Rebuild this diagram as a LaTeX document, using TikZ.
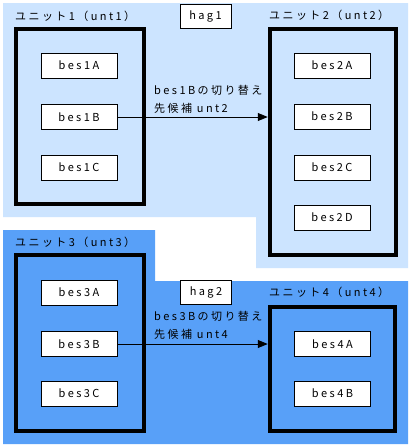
\documentclass[tikz,border=0pt]{standalone}
\usepackage{fontspec}
\setmainfont{Noto Sans CJK JP}[LetterSpace=22]
\usetikzlibrary{arrows.meta}
\definecolor{hagpale}{RGB}{204,228,255}
\definecolor{hagdeep}{RGB}{88,160,248}
\tikzset{
  unitbox/.style={draw, line width=4.5pt, minimum width=#1},
  besbox/.style={draw, fill=white, line width=0.8pt, minimum width=76pt, minimum height=25pt, font=\fontsize{11}{13}\selectfont},
  hagbox/.style={draw, fill=white, line width=0.8pt, minimum width=51pt, minimum height=24pt, font=\fontsize{11}{13}\selectfont},
  unitlabel/.style={anchor=west, inner sep=0pt, font=\fontsize{11}{13}\selectfont},
  swaplabel/.style={anchor=west, align=left, inner sep=0pt, font=\fontsize{11}{18}\selectfont},
  swaparrow/.style={line width=0.8pt, -{Triangle[length=10pt, width=8pt]}}
}
\begin{document}
\begin{tikzpicture}[x=1pt, y=-1pt]
    \useasboundingbox (0,0) rectangle (411,448);
    \fill[white] (0,0) rectangle (411,448);

    % Groups
    \fill[hagpale] (3,3) -- (408,3) -- (408,268) -- (256,268) -- (256,217) -- (3,217) -- cycle;
    \fill[hagdeep] (3,230) -- (155,230) -- (155,281) -- (408,281) -- (408,444) -- (3,444) -- cycle;
    \node[hagbox] (hag1) at (205.5,16.5) {hag1};
    \node[hagbox] (hag2) at (206,292.5) {hag2};

    % Units
    \node[unitbox=128pt, minimum height=175pt] (unt1) at (80,116.5) {};
    \node[unitbox=126pt, minimum height=226pt] (unt2) at (333,142) {};
    \node[unitbox=128pt, minimum height=176pt] (unt3) at (80,343) {};
    \node[unitbox=125pt, minimum height=124pt] (unt4) at (332.5,369) {};
    \node[unitlabel] (lab1) at (15,16) {ユニット1（unt1）};
    \node[unitlabel] (lab2) at (269,15) {ユニット2（unt2）};
    \node[unitlabel] (lab3) at (15,242) {ユニット3（unt3）};
    \node[unitlabel] (lab4) at (269,292) {ユニット4（unt4）};

    % Members
    \foreach \name/\y in {1A/65.5, 1B/117, 1C/167.5}
        \node[besbox] (bes\name) at (79,\y) {bes\name};
    \foreach \name/\y in {2A/65.5, 2B/116.5, 2C/167.5, 2D/217.5}
        \node[besbox] (bes\name) at (332,\y) {bes\name};
    \foreach \name/\y in {3A/292.5, 3B/344, 3C/393.5}
        \node[besbox] (bes\name) at (79,\y) {bes\name};
    \foreach \name/\y in {4A/344, 4B/393.5}
        \node[besbox] (bes\name) at (332.5,\y) {bes\name};

    % Switch candidates
    \draw[swaparrow] (bes1B.east) -- (bes1B.east -| unt2.west);
    \node[swaplabel] (swap1) at (154,99) {bes1Bの切り替え\\先候補 unt2};
    \draw[swaparrow] (bes3B.east) -- (bes3B.east -| unt4.west);
    \node[swaplabel] (swap3) at (154,325) {bes3Bの切り替え\\先候補 unt4};
\end{tikzpicture}
\end{document}
